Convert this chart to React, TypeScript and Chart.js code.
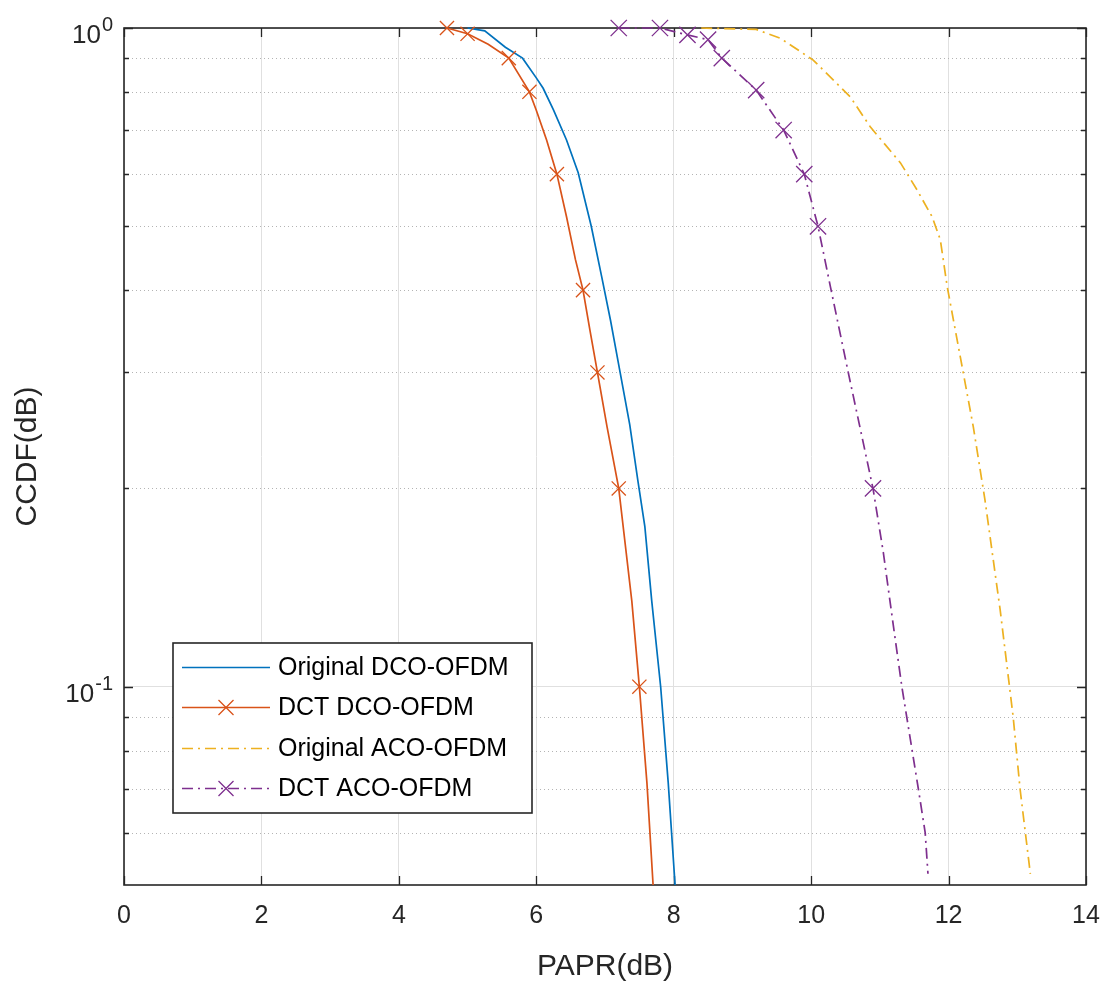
import React, { useEffect, useRef } from 'react';
import { Chart, registerables } from 'chart.js';

Chart.register(...registerables);

// ---- data ----
const origDcoX = [5.0, 5.25, 5.55, 5.8, 6.0, 6.1, 6.25, 6.44, 6.61, 6.8, 6.95, 7.08, 7.22, 7.36, 7.48, 7.58, 7.68, 7.81, 7.92, 8.02];
const origDcoY = [1.0, 0.99, 0.935, 0.9, 0.84, 0.81, 0.751, 0.676, 0.603, 0.5, 0.42, 0.36, 0.3, 0.25, 0.205, 0.175, 0.135, 0.1, 0.0715, 0.05];

const dctDcoX = [4.7, 5.0, 5.3, 5.6, 5.9, 6.0, 6.15, 6.3, 6.44, 6.57, 6.68, 6.78, 6.89, 7.03, 7.2, 7.39, 7.5, 7.61, 7.7];
const dctDcoY = [1.0, 0.98, 0.945, 0.9, 0.8, 0.75, 0.676, 0.6, 0.517, 0.445, 0.4, 0.348, 0.3, 0.248, 0.2, 0.135, 0.1, 0.0715, 0.05];
const dctDcoMarkX = [4.7, 5.0, 5.6, 5.9, 6.3, 6.68, 6.89, 7.2, 7.5];
const dctDcoMarkY = [1.0, 0.98, 0.9, 0.8, 0.6, 0.4, 0.3, 0.2, 0.1];

const origAcoX = [8.4, 9.2, 9.55, 10.03, 10.57, 10.86, 11.3, 11.54, 11.76, 11.88, 11.98, 12.17, 12.36, 12.53, 12.75, 12.94, 13.04, 13.19];
const origAcoY = [1.0, 0.995, 0.965, 0.894, 0.786, 0.708, 0.624, 0.568, 0.517, 0.477, 0.405, 0.317, 0.248, 0.192, 0.131, 0.09, 0.07, 0.052];

const dctAcoX = [7.2, 7.8, 8.2, 8.5, 8.7, 9.2, 9.6, 9.9, 10.1, 10.28, 10.54, 10.9, 11.05, 11.2, 11.32, 11.47, 11.56, 11.66, 11.7];
const dctAcoY = [1.0, 1.0, 0.976, 0.96, 0.9, 0.805, 0.7, 0.6, 0.5, 0.405, 0.3, 0.2, 0.16, 0.123, 0.1, 0.08, 0.07, 0.06, 0.052];
const dctAcoMarkX = [7.2, 7.8, 8.2, 8.5, 8.7, 9.2, 9.6, 9.9, 10.1, 10.9];
const dctAcoMarkY = [1.0, 1.0, 0.976, 0.96, 0.9, 0.805, 0.7, 0.6, 0.5, 0.2];

const xTicks = [0, 2, 4, 6, 8, 10, 12, 14];
const yMajorTicks = [1, 0.1];
const yMinorTicks = [0.9, 0.8, 0.7, 0.6, 0.5, 0.4, 0.3, 0.2, 0.09, 0.08, 0.07, 0.06];
const yTickExponents = ['0', '-1'];
const legendLabels = ['Original DCO-OFDM', 'DCT DCO-OFDM', 'Original ACO-OFDM', 'DCT ACO-OFDM'];

const xTitle = 'PAPR(dB)';
const yTitle = 'CCDF(dB)';

// ---- styles ----
const BLUE = '#0072BD';
const ORANGE = '#D95319';
const YELLOW = '#EDB120';
const PURPLE = '#7E2F8E';
const AXIS = '#262626';
const FONT = '"Liberation Sans", Arial, Helvetica, sans-serif';
const DASHDOT = [11, 5, 2, 5];

const pts = (xs: number[], ys: number[]) => xs.map((x, i) => ({ x, y: ys[i] }));

const drawCross = (ctx: CanvasRenderingContext2D, cx: number, cy: number, r: number, color: string) => {
  ctx.save();
  ctx.setLineDash([]);
  ctx.strokeStyle = color;
  ctx.lineWidth = 1.3;
  ctx.beginPath();
  ctx.moveTo(cx - r, cy - r);
  ctx.lineTo(cx + r, cy + r);
  ctx.moveTo(cx - r, cy + r);
  ctx.lineTo(cx + r, cy - r);
  ctx.stroke();
  ctx.restore();
};

const matlabPlugin = {
  id: 'matlabAxes',
  beforeDatasetsDraw(chart: any) {
    const { ctx, chartArea: a, scales } = chart;
    const x = scales.x;
    const y = scales.y;
    ctx.save();
    // minor dotted grid
    ctx.strokeStyle = '#b4b4b4';
    ctx.lineWidth = 1;
    ctx.setLineDash([1, 3]);
    for (const v of yMinorTicks) {
      const py = Math.round(y.getPixelForValue(v)) + 0.5;
      ctx.beginPath();
      ctx.moveTo(a.left, py);
      ctx.lineTo(a.right, py);
      ctx.stroke();
    }
    ctx.setLineDash([]);
    // frame
    ctx.strokeStyle = AXIS;
    ctx.lineWidth = 1.6;
    ctx.strokeRect(a.left, a.top, a.right - a.left, a.bottom - a.top);
    // ticks
    ctx.lineWidth = 1.3;
    ctx.beginPath();
    for (const v of xTicks) {
      const px = Math.round(x.getPixelForValue(v)) + 0.5;
      ctx.moveTo(px, a.bottom);
      ctx.lineTo(px, a.bottom - 9);
      ctx.moveTo(px, a.top);
      ctx.lineTo(px, a.top + 9);
    }
    for (const v of yMajorTicks) {
      const py = Math.round(y.getPixelForValue(v)) + 0.5;
      ctx.moveTo(a.left, py);
      ctx.lineTo(a.left + 9, py);
      ctx.moveTo(a.right, py);
      ctx.lineTo(a.right - 9, py);
    }
    for (const v of yMinorTicks) {
      const py = Math.round(y.getPixelForValue(v)) + 0.5;
      ctx.moveTo(a.left, py);
      ctx.lineTo(a.left + 5, py);
      ctx.moveTo(a.right, py);
      ctx.lineTo(a.right - 5, py);
    }
    ctx.stroke();
    // y tick labels with superscripts
    ctx.fillStyle = AXIS;
    ctx.textBaseline = 'alphabetic';
    yMajorTicks.forEach((v, i) => {
      const py = y.getPixelForValue(v);
      const sup = yTickExponents[i];
      ctx.font = `20px ${FONT}`;
      const sw = ctx.measureText(sup).width;
      const right = a.left - 11;
      ctx.textAlign = 'left';
      ctx.fillText(sup, right - sw, py + 3);
      ctx.font = `26px ${FONT}`;
      ctx.textAlign = 'right';
      ctx.fillText('10', right - sw - 1, py + 15);
    });
    ctx.restore();
  },
  afterDraw(chart: any) {
    const { ctx } = chart;
    const box = { left: 173, top: 643, right: 532, bottom: 813 };
    ctx.save();
    ctx.fillStyle = '#ffffff';
    ctx.fillRect(box.left, box.top, box.right - box.left, box.bottom - box.top);
    ctx.strokeStyle = AXIS;
    ctx.lineWidth = 1.6;
    ctx.setLineDash([]);
    ctx.strokeRect(box.left, box.top, box.right - box.left, box.bottom - box.top);
    const colors = [BLUE, ORANGE, YELLOW, PURPLE];
    const dashed = [false, false, true, true];
    const marked = [false, true, false, true];
    const rowY = [667, 707, 748, 788];
    const x0 = 182;
    const x1 = 270;
    legendLabels.forEach((lab, i) => {
      const yy = rowY[i] + 0.5;
      ctx.strokeStyle = colors[i];
      ctx.lineWidth = 1.7;
      ctx.setLineDash(dashed[i] ? DASHDOT : []);
      ctx.beginPath();
      ctx.moveTo(x0, yy);
      ctx.lineTo(x1, yy);
      ctx.stroke();
      if (marked[i]) drawCross(ctx, (x0 + x1) / 2, yy, 7.5, colors[i]);
      ctx.setLineDash([]);
      ctx.fillStyle = '#000000';
      ctx.font = `25px ${FONT}`;
      ctx.textAlign = 'left';
      ctx.textBaseline = 'middle';
      ctx.fillText(lab, 278, rowY[i] + 1);
    });
    ctx.restore();
  },
};

export default function App() {
  const ref = useRef<HTMLCanvasElement | null>(null);

  useEffect(() => {
    if (!ref.current) return;
    const lineDs = (label: string, data: any[], color: string, dash: number[]) => ({
      label,
      data,
      borderColor: color,
      backgroundColor: color,
      borderWidth: 1.7,
      borderDash: dash,
      pointRadius: 0,
      tension: 0,
      fill: false,
      clip: false as any,
    });
    const markDs = (label: string, data: any[], color: string, r: number) => ({
      label,
      data,
      showLine: false,
      borderColor: color,
      backgroundColor: color,
      pointStyle: 'crossRot',
      pointRadius: r,
      pointBorderWidth: 1.3,
      clip: false as any,
    });
    const chart = new Chart(ref.current, {
      type: 'line',
      data: {
        datasets: [
          { ...markDs('DCT ACO-OFDM markers', pts(dctAcoMarkX, dctAcoMarkY), PURPLE, 11.5), order: 1 },
          { ...lineDs('DCT ACO-OFDM', pts(dctAcoX, dctAcoY), PURPLE, DASHDOT), order: 2 },
          { ...lineDs('Original ACO-OFDM', pts(origAcoX, origAcoY), YELLOW, DASHDOT), order: 3 },
          { ...markDs('DCT DCO-OFDM markers', pts(dctDcoMarkX, dctDcoMarkY), ORANGE, 10), order: 4 },
          { ...lineDs('DCT DCO-OFDM', pts(dctDcoX, dctDcoY), ORANGE, []), order: 5 },
          { ...lineDs('Original DCO-OFDM', pts(origDcoX, origDcoY), BLUE, []), order: 6 },
        ] as any,
      },
      options: {
        responsive: false,
        animation: false,
        devicePixelRatio: 1,
        layout: { padding: { left: 0, right: 27, top: 28, bottom: 0 } },
        plugins: { legend: { display: false }, tooltip: { enabled: false } },
        scales: {
          x: {
            type: 'linear',
            min: 0,
            max: 14,
            afterBuildTicks: (s: any) => { s.ticks = xTicks.map((v) => ({ value: v })); },
            afterFit: (s: any) => { s.height = 106; s.paddingRight = 0; s.paddingLeft = 0; },
            grid: { color: '#e0e0e0', lineWidth: 1, drawTicks: false },
            border: { display: false },
            ticks: {
              padding: 16,
              color: AXIS,
              font: { family: FONT, size: 25 },
              maxRotation: 0,
              callback: (v: any) => String(v),
            },
            title: {
              display: true,
              text: xTitle,
              color: AXIS,
              font: { family: FONT, size: 30 },
              padding: { top: 0, bottom: 6 },
            },
          },
          y: {
            type: 'logarithmic',
            min: 0.05,
            max: 1,
            afterBuildTicks: (s: any) => { s.ticks = yMajorTicks.map((v) => ({ value: v, major: true })); },
            afterFit: (s: any) => { s.width = 124; s.paddingTop = 0; s.paddingBottom = 0; },
            grid: { color: '#e0e0e0', lineWidth: 1, drawTicks: false },
            border: { display: false },
            ticks: { display: false },
            title: {
              display: true,
              text: yTitle,
              color: AXIS,
              font: { family: FONT, size: 30 },
              padding: { top: 10, bottom: 0 },
            },
          },
        },
      } as any,
      plugins: [matlabPlugin],
    });
    return () => chart.destroy();
  }, []);

  return (
    <div style={{ position: 'absolute', left: 0, top: 0, width: 1113, height: 991, background: '#fff' }}>
      <canvas ref={ref} width={1113} height={991} style={{ display: 'block' }} />
    </div>
  );
}
